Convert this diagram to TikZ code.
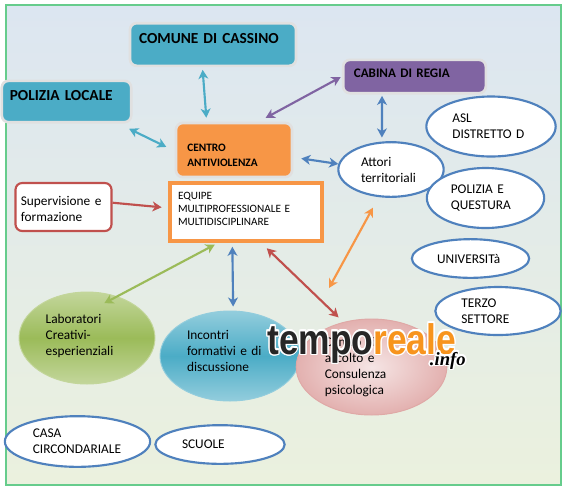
\documentclass[tikz,border=0pt]{standalone}
\usepackage{fontspec}
\setmainfont{Carlito}
\newfontfamily\markfont{Liberation Sans}
\newfontfamily\infofont{Liberation Serif}
\usepackage[copies]{contour}
\usetikzlibrary{arrows.meta,shapes.geometric}
\definecolor{bluesky}{HTML}{DCE6F1}
\definecolor{greensoft}{HTML}{EBF1DE}
\definecolor{frameline}{HTML}{66CC8C}
\definecolor{tealbox}{HTML}{4BACC6}
\definecolor{orangebox}{HTML}{F79646}
\definecolor{purplebox}{HTML}{8064A2}
\definecolor{redline}{HTML}{C0504D}
\definecolor{blueline}{HTML}{4F81BD}
\definecolor{greenline}{HTML}{9BBB59}
\definecolor{markorange}{HTML}{F7941D}
\tikzset{
  softbox/.style={rectangle,rounded corners=5pt,draw=white!88!black,line width=2pt,inner sep=0pt,align=left},
  whitebubble/.style={ellipse,draw=blueline,fill=white,line width=1.6pt,inner sep=0pt,align=left,font=\fontsize{10}{12}\selectfont},
  softbubble/.style={ellipse,line width=.7pt,inner sep=0pt,align=left,font=\fontsize{10}{11.8}\selectfont},
  link/.style={<->,line width=1.6pt},
}
\begin{document}
\begin{tikzpicture}[x=.75pt,y=-.75pt,>={Stealth[length=2.4mm,width=2.6mm,inset=.7mm]}]
  \useasboundingbox (0,0) rectangle (566,487);
  \shade[top color=bluesky,bottom color=greensoft,draw=frameline,line width=1.3pt] (6,5) rectangle (561,485);
  \node[softbox,fill=tealbox,minimum width=124.5pt,minimum height=32pt,text width=111pt,text depth=9pt,font=\fontsize{11.5}{13}\selectfont\bfseries] (comune) at (213,44.5) {COMUNE DI CASSINO};
  \node[softbox,fill=tealbox,minimum width=97pt,minimum height=31pt,text width=85pt,text depth=9pt,font=\fontsize{11.5}{13}\selectfont\bfseries] (polizia) at (66.5,101.5) {POLIZIA LOCALE};
  \node[softbox,fill=orangebox,minimum width=87pt,minimum height=40.5pt,text width=70pt,text height=14pt,font=\fontsize{8.5}{11.5}\selectfont\bfseries] (centro) at (234,150) {CENTRO\\ANTIVIOLENZA};
  \node[rectangle,draw=orangebox,fill=white,line width=2.6pt,minimum width=114pt,minimum height=43.5pt,text width=102pt,inner sep=0pt,align=left,font=\fontsize{8.4}{10}\selectfont] (equipe) at (246,212) {EQUIPE\\MULTIPROFESSIONALE E\\MULTIDISCIPLINARE\\[-5.5pt]\mbox{}};
  \node[rectangle,rounded corners=5pt,draw=redline,fill=white,line width=1.6pt,minimum width=72pt,minimum height=36pt,text width=64pt,text height=10pt,inner sep=0pt,align=left,font=\fontsize{10}{12.5}\selectfont] (supervisione) at (63.5,207) {Supervisione e\\formazione};
  \node[softbox,fill=purplebox,minimum width=107pt,minimum height=25pt,text width=91pt,text depth=5pt,font=\fontsize{9.8}{11}\selectfont\bfseries] (cabina) at (414.5,76.5) {CABINA DI REGIA};
  \node[whitebubble,minimum width=79pt,minimum height=41pt,text width=45pt] (attori) at (391,169.5) {Attori\\territoriali};
  \node[whitebubble,minimum width=97pt,minimum height=45pt,text width=58pt] (asl) at (491,126.5) {ASL\\DISTRETTO D};
  \node[whitebubble,minimum width=88pt,minimum height=45pt,text width=52pt] (questura) at (485.5,198) {POLIZIA E\\QUESTURA};
  \node[whitebubble,minimum width=88pt,minimum height=29pt,text width=50pt] (universita) at (470.5,258.5) {UNIVERSITà};
  \node[whitebubble,minimum width=94pt,minimum height=36pt,text width=55pt] (terzo) at (498,311) {TERZO\\SETTORE};
  \node[whitebubble,minimum width=109pt,minimum height=38pt,text width=67pt] (casa) at (77.5,441.5) {CASA\\CIRCONDARIALE};
  \node[whitebubble,minimum width=97pt,minimum height=29pt,text width=57pt] (scuole) at (220,444.5) {SCUOLE};
  \node[softbubble,draw=greenline!60!white,top color=greenline!60!white,bottom color=greenline!60!white,middle color=greenline,minimum width=102pt,minimum height=69pt,text width=62pt] (laboratori) at (87,338) {Laboratori\\Creativi-\\esperienziali\\[-7.3pt]\mbox{}};
  \node[softbubble,draw=tealbox!60!white,top color=tealbox!60!white,bottom color=tealbox!60!white,middle color=tealbox,minimum width=105pt,minimum height=67.5pt,text width=64.5pt] (incontri) at (230,356) {Incontri\\formativi e di\\discussione\\[-3.8pt]\mbox{}};
  \node[softbubble,draw=redline!50!white,shading=radial,inner color=redline!15!white,outer color=redline!45!white,minimum width=113pt,minimum height=72pt,text width=70pt] (ascolto) at (371.5,367) {Centro di\\ascolto e\\Consulenza\\psicologica};
  \coordinate (orangefree) at (329,288);
  \draw[link,tealbox,shorten <=2pt,shorten >=3pt] (comune.-115) -- (centro.134);
  \draw[link,tealbox,shorten <=9pt,shorten >=7pt] (polizia.-23) -- (centro.181);
  \draw[link,purplebox,shorten <=6pt,shorten >=1pt] (centro.49) -- (cabina.180);
  \draw[link,blueline,shorten <=6pt] (centro.-7) -- (attori.174);
  \draw[link,blueline,shorten <=1pt,shorten >=3pt] (cabina.-151) -- (attori.108);
  \draw[->,redline,line width=1.6pt,shorten >=5pt] (supervisione.5) -- (equipe.177);
  \draw[link,greenline,shorten <=3pt,shorten >=-11pt] (equipe.-132) -- (laboratori.54);
  \draw[link,blueline,shorten <=3pt,shorten >=3pt] (equipe.-114) -- (incontri.86);
  \draw[link,redline,shorten <=6pt,shorten >=5pt] (equipe.-64) -- (ascolto.122);
  \draw[link,orangebox,shorten <=9pt] (attori.-114.5) -- (orangefree);
  \contourlength{1.1pt}
  \node[inner sep=0pt,anchor=base west,font=\markfont\bfseries\fontsize{32}{32}\selectfont] (watermark) at (267,354) {\scalebox{.83}[1]{\contour{white}{\textcolor{black!85}{tempo}\textcolor{markorange}{reale}}}};
  \node[inner sep=0pt,anchor=base east,font=\infofont\bfseries\itshape\fontsize{14}{14}\selectfont] (info) at (466,365) {\contour{white}{.info}};
\end{tikzpicture}
\end{document}
